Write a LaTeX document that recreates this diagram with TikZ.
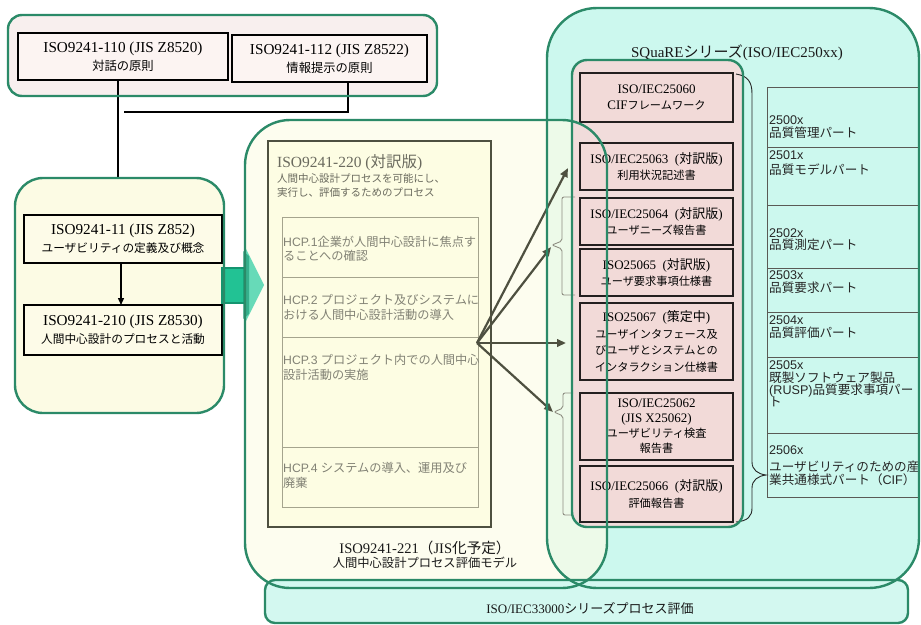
\documentclass[tikz,border=0pt]{standalone}
\usepackage{fontspec}
\setmainfont{Liberation Serif}
\setsansfont{Liberation Sans}
\newfontfamily\jpfont{Noto Sans CJK JP}
\newcommand{\jt}[1]{{\jpfont #1}}
\newcommand{\jx}[1]{{\jpfont\fontsize{11.2}{16}\selectfont #1}}
\newcommand{\fs}[2]{\fontsize{#1}{#2}\selectfont}
\usetikzlibrary{arrows.meta}

\definecolor{frame}{HTML}{2B8A68}
\definecolor{cream}{HTML}{FCFBE4}
\definecolor{creambox}{HTML}{FDFBE8}
\definecolor{paleyellow}{HTML}{FCFCE8}
\definecolor{rosewhite}{HTML}{F8EFEE}
\definecolor{rosewhitebox}{HTML}{FCF4F2}
\definecolor{aqua}{HTML}{CCF8EE}
\definecolor{aquabar}{HTML}{D3F8F0}
\definecolor{rose}{HTML}{F1DCDB}
\definecolor{rosebox}{HTML}{F2DAD8}
\definecolor{boxyellow}{HTML}{FDFDE3}
\definecolor{olive}{HTML}{4E5040}
\definecolor{tableline}{HTML}{A5A48E}
\definecolor{hcpgray}{HTML}{828275}
\definecolor{headgray}{HTML}{6A6A5E}
\definecolor{bracegray}{HTML}{8E8E82}
\definecolor{boxline}{HTML}{231F1F}
\definecolor{gridline}{HTML}{5A5A55}
\definecolor{tealbody}{HTML}{22C294}
\definecolor{tealedge}{HTML}{15946F}
\definecolor{teallight}{HTML}{67DAB8}

\tikzset{
  panel/.style={inner sep=0pt, outer sep=0pt},
  rim/.style={draw=frame, line width=2.4pt},
  stdbox/.style={draw=black, line width=2.7pt, inner sep=0pt, outer sep=0pt,
    align=center, font=\fs{15.2}{18}},
  pinkbox/.style={draw=boxline, line width=2.7pt, fill=rosebox, inner sep=0pt,
    outer sep=0pt, align=center, font=\fs{13}{16.5}, minimum width=153pt},
  hcprow/.style={draw=tableline, line width=1pt, minimum width=196pt, inner sep=0pt},
  hcptext/.style={anchor=base west, inner sep=0pt, text=hcpgray,
    font=\sffamily\fs{12.2}{14}},
  headtext/.style={anchor=base west, inner sep=0pt, text=headgray},
  celltext/.style={anchor=base west, inner sep=0pt, text=black!85,
    font=\sffamily\fs{12.6}{13}},
  caption/.style={inner sep=0pt, text=black!90},
  flow/.style={draw=olive, line width=2.2pt, -{Triangle[length=9pt,width=7.5pt]}},
  wire/.style={draw=black, line width=1.3pt},
  bracket/.style={draw=bracegray, line width=0.9pt, rounded corners=2pt},
}

\begin{document}
\begin{tikzpicture}[x=1pt,y=-1pt]
\useasboundingbox (0,0) rectangle (921,624);

% ---- container backgrounds ----
\node[panel, fill=aqua, minimum width=372pt, minimum height=580pt, rounded corners=50pt] (sq) at (733,298) {};
\node[panel, fill=paleyellow, fill opacity=0.7, minimum width=362pt, minimum height=468pt, rounded corners=45pt] (mc) at (426,354) {};
\node[panel, fill=aquabar, minimum width=643pt, minimum height=43pt, rounded corners=10pt] (bc) at (586.5,601.5) {};
\node[panel, fill=rose, minimum width=171pt, minimum height=467pt, rounded corners=15pt] (pc) at (657.5,293.5) {};
\node[panel, fill=rosewhite, minimum width=429pt, minimum height=81pt, rounded corners=14pt] (tc) at (222.5,55.5) {};
\node[panel, fill=cream, minimum width=209pt, minimum height=235pt, rounded corners=28pt] (lc) at (119.5,295.5) {};

% ---- dialogue / presentation principles ----
\node[stdbox, fill=rosewhitebox, minimum width=210pt, minimum height=47pt] (b110) at (123,56.5)
  {ISO9241-110 (JIS Z8520)\\ \jt{\fs{12.3}{18}対話の原則}};
\node[stdbox, fill=rosewhitebox, minimum width=195pt, minimum height=47pt] (b112) at (329.5,58.5)
  {ISO9241-112 (JIS Z8522)\\ \jt{\fs{12.3}{18}情報提示の原則}};

% ---- usability / HCD process ----
\node[stdbox, fill=creambox, minimum width=198pt, minimum height=48pt] (b11) at (123,239)
  {ISO9241-11 (JIS Z852)\\ \jt{\fs{11.7}{18}ユーザビリティの定義及び概念}};
\node[stdbox, fill=creambox, minimum width=198pt, minimum height=50pt] (b210) at (123,330)
  {ISO9241-210 (JIS Z8530)\\ \jt{\fs{11.7}{18}人間中心設計のプロセスと活動}};

\coordinate (joint) at (124,112);
\draw[wire] ([xshift=-5pt]b110.south) -- ([xshift=-5pt]b110.south |- lc.north);
\draw[wire] ([xshift=18.5pt]b112.south) |- (joint);
\draw[wire, -{Triangle[length=7pt,width=6pt]}] ([xshift=-2pt]b11.south) -- ([xshift=-2pt]b210.north);

% ---- block arrow into the process model ----
\fill[tealbody] (222,268) rectangle (245,303);
\draw[tealedge, line width=1.4pt] (222,268) rectangle (245,303);
\fill[teallight] (245,247) -- (264,285) -- (245,323) -- cycle;
\fill[tealedge, opacity=0.6] (243,251) -- (249,256) -- (249,314) -- (243,319) -- cycle;

% ---- ISO9241-220 process box ----
\node[panel, draw=olive, line width=2.8pt, fill=boxyellow, minimum width=223pt, minimum height=386pt] (b220) at (379.5,334) {};
\node[headtext, font=\fs{15.5}{16}] (h220a) at (277,167.5) {ISO9241-220 (\jt{対訳版})};
\node[headtext, font=\jpfont\fs{10.5}{13}] (h220b) at (277,182.5) {人間中心設計プロセスを可能にし、};
\node[headtext, font=\jpfont\fs{10.5}{13}] (h220c) at (277,196.5) {実行し、評価するためのプロセス};

\node[hcprow, minimum height=60pt] (hcpA) at (380,247) {};
\node[hcprow, minimum height=60pt] (hcpB) at (380,307) {};
\node[hcprow, minimum height=110pt] (hcpC) at (380,392) {};
\node[hcprow, minimum height=60pt] (hcpD) at (380,477) {};

\node[hcptext] (t1a) at (283,246.5) {HCP.1\jt{企業が人間中心設計に焦点す}};
\node[hcptext] (t1b) at (283,260) {\jt{ることへの確認}};
\node[hcptext] (t2a) at (283,304.5) {HCP.2 \jt{プロジェクト及びシステムに}};
\node[hcptext] (t2b) at (283,319) {\jt{おける人間中心設計活動の導入}};
\node[hcptext] (t3a) at (283,364.5) {HCP.3 \jt{プロジェクト内での人間中心}};
\node[hcptext] (t3b) at (283,379) {\jt{設計活動の実施}};
\node[hcptext] (t4a) at (283,472.5) {HCP.4 \jt{システムの導入、運用及び}};
\node[hcptext] (t4b) at (283,487) {\jt{廃棄}};

\node[caption, font=\fs{14.6}{16}] (m221a) at (425,548) {ISO9241-221\jt{（}JIS\jt{化予定）}};
\node[caption, font=\jpfont\fs{12.3}{14}] (m221b) at (425,563) {人間中心設計プロセス評価モデル};

% ---- SQuaRE series ----
\node[caption, font=\fs{15}{17}] (sqt) at (737,53) {SQuaRE\jt{シリーズ}(ISO/IEC250xx)};

\node[pinkbox, minimum height=49pt] (p60) at (656.5,97.5) {ISO/IEC25060\\CIF\jx{フレームワーク}};
\node[pinkbox, minimum height=47pt] (p63) at (656.5,166.5) {ISO/IEC25063\ \ (\jt{対訳版})\\\jx{利用状況記述書}};
\node[pinkbox, minimum height=47pt] (p64) at (656.5,221.5) {ISO/IEC25064\ \ (\jt{対訳版})\\\jx{ユーザニーズ報告書}};
\node[pinkbox, minimum height=47pt] (p65) at (656.5,272.5) {ISO25065\ \ (\jt{対訳版})\\\jx{ユーザ要求事項仕様書}};
\node[pinkbox, minimum height=77pt] (p67) at (656.5,341.5)
  {ISO25067\ \ (\jt{策定中})\\\jx{ユーザインタフェース及}\\\jx{びユーザとシステムとの}\\\jx{インタラクション仕様書}};
\node[pinkbox, minimum height=67pt, font=\fs{13}{15}] (p62) at (656.5,426.5)
  {ISO/IEC25062\\(JIS X25062)\\\jx{ユーザビリティ検査}\\\jx{報告書}};
\node[pinkbox, minimum height=56pt] (p66) at (656.5,494) {ISO/IEC25066\ \ (\jt{対訳版})\\\jx{評価報告書}};

% brackets grouping target documents
\draw[bracket] (575,197) -- (562,197) -- (562,241) -- (552,245) -- (562,249) -- (562,295) -- (575,295);
\draw[bracket] (573,393) -- (563,393) -- (563,408) -- (554,412) -- (563,416) -- (563,515) -- (573,515);

% process activities lead to the documents
\coordinate (src) at (477,343);
\coordinate (tipA) at (568,168);
\coordinate (tipB) at (551,247);
\coordinate (tipC) at (566,343);
\coordinate (tipD) at (553,412);
\draw[flow] (src) -- (tipA);
\draw[flow] (src) -- (tipB);
\draw[flow] (src) -- (tipC);
\draw[flow] (src) -- (tipD);

% ---- SQuaRE divisions table ----
\draw[gridline, line width=0.9pt] (767,87) rectangle (919,497);
\foreach \yy in {147,205,268,312,357,433} \draw[gridline, line width=0.9pt] (767,\yy) -- (919,\yy);

\node[celltext] (c0a) at (769,124.5) {2500x};
\node[celltext] (c0b) at (769,137) {\jt{品質管理パート}};
\node[celltext] (c1a) at (769,159.5) {2501x};
\node[celltext] (c1b) at (769,174) {\jt{品質モデルパート}};
\node[celltext] (c2a) at (769,237) {2502x};
\node[celltext] (c2b) at (769,249.5) {\jt{品質測定パート}};
\node[celltext] (c3a) at (769,279.5) {2503x};
\node[celltext] (c3b) at (769,292.5) {\jt{品質要求パート}};
\node[celltext] (c4a) at (769,324.5) {2504x};
\node[celltext] (c4b) at (769,337.5) {\jt{品質評価パート}};
\node[celltext] (c5a) at (769,369.5) {2505x};
\node[celltext] (c5b) at (769,382.5) {\jt{既製ソフトウェア製品}};
\node[celltext] (c5c) at (769,394.5) {(RUSP)\jt{品質要求事項パー}};
\node[celltext] (c5d) at (769,406.5) {\jt{ト}};
\node[celltext] (c6a) at (769,454.5) {2506x};
\node[celltext] (c6b) at (769,471.5) {\jt{ユーザビリティのための産}};
\node[celltext] (c6c) at (769,484.5) {\jt{業共通様式パート（}CIF\jt{）}};

% brace joining the documents to the divisions
\draw[black!85, line width=0.9pt] (736,74) .. controls (748,76) and (752,82) .. (752,94)
  -- (752,462) .. controls (752,470) and (758,474) .. (766,475)
  .. controls (758,476) and (752,480) .. (752,488)
  -- (752,508) .. controls (752,516) and (748,521) .. (736,522);

% ---- process assessment bar ----
\node[caption, font=\fs{13}{15}] (bct) at (590,608) {ISO/IEC33000\jt{シリーズプロセス評価}};

% ---- container outlines on top ----
\draw[rim] (tc.north west) [rounded corners=14pt] rectangle (tc.south east);
\draw[rim] (lc.north west) [rounded corners=28pt] rectangle (lc.south east);
\draw[rim] (sq.north west) [rounded corners=50pt] rectangle (sq.south east);
\draw[rim] (bc.north west) [rounded corners=10pt] rectangle (bc.south east);
\draw[rim] (pc.north west) [rounded corners=15pt] rectangle (pc.south east);
\draw[rim] (mc.north west) [rounded corners=45pt] rectangle (mc.south east);
\end{tikzpicture}
\end{document}
